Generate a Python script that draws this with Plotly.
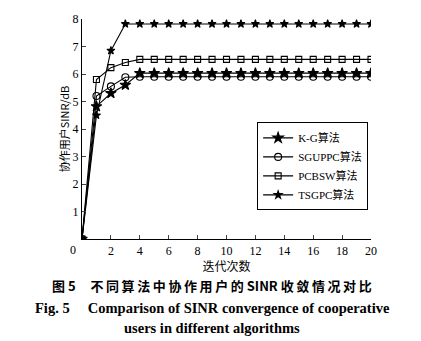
import plotly.graph_objects as go

# iteration index
iters = list(range(0, 21))

# SINR (dB) of cooperative users per iteration, one list per algorithm
kg_sinr = [0, 4.82, 5.3, 5.6] + [6.03] * 17
sguppc_sinr = [0, 5.2, 5.55, 5.88] + [5.9] * 17
pcbsw_sinr = [0, 5.8, 6.23, 6.42] + [6.53] * 17
tsgpc_sinr = [0, 4.5, 6.85] + [7.82] * 18

series_names = ["K-G算法", "SGUPPC算法", "PCBSW算法", "TSGPC算法"]
series_values = [kg_sinr, sguppc_sinr, pcbsw_sinr, tsgpc_sinr]
series_symbols = ["star", "circle-open", "square-open", "star"]
series_sizes = [8, 7, 6, 6]

x_ticks = list(range(2, 21, 2))
y_ticks = list(range(1, 9))

SERIF = "Liberation Serif, Times New Roman, Noto Sans CJK SC, serif"
CJK = "Noto Sans CJK SC, sans-serif"
NB = "\u00a0"
TS = "\u2009"

fig = go.Figure()
for name, vals, sym, sz in zip(series_names, series_values, series_symbols, series_sizes):
    fig.add_trace(go.Scatter(
        x=iters, y=vals, name=name, mode="lines+markers",
        line=dict(color="black", width=1.1),
        marker=dict(symbol=sym, size=sz, color="black",
                    line=dict(color="black", width=1.1)),
    ))

fig.update_layout(
    width=421, height=341,
    margin=dict(l=82, r=50, t=12, b=102),
    paper_bgcolor="white", plot_bgcolor="white",
    font=dict(family=SERIF, size=12, color="black"),
    showlegend=True,
    legend=dict(
        x=0.606, y=0.53, xanchor="left", yanchor="top",
        bordercolor="black", borderwidth=1, bgcolor="white",
        font=dict(family=SERIF, size=11),
        tracegroupgap=0, itemwidth=30,
    ),
    xaxis=dict(
        range=[0, 20], tickvals=x_ticks, ticks="inside", ticklen=4,
        showline=True, linecolor="black", linewidth=1.2, showgrid=False,
        zeroline=False, tickfont=dict(family=SERIF, size=12),
        title=dict(text="迭代次数", font=dict(family=CJK, size=12), standoff=4),
    ),
    yaxis=dict(
        range=[0, 8], tickvals=y_ticks, ticks="inside", ticklen=4,
        showline=True, linecolor="black", linewidth=1.2, showgrid=False,
        zeroline=False, tickfont=dict(family=SERIF, size=12),
        title=dict(text="协作用户SINR/dB", font=dict(family=CJK, size=11), standoff=0),
    ),
)

# shared origin label at the corner
fig.add_annotation(text="0", x=(73 - 82) / 289, y=(239 - 250) / 227,
                   xref="paper", yref="paper", xanchor="center", yanchor="middle",
                   showarrow=False, font=dict(family=SERIF, size=12))

# caption lines under the chart (pixel position -> paper coords)
cn_caption = ("<b>图" + NB + "5" + NB * 5 + TS.join("不同算法中协作用户的") + NB + "SINR" + NB
              + TS.join("收敛情况对比") + "</b>")
en_caption = "<b>Fig." + NB + "5" + NB * 5 + "Comparison of SINR convergence of cooperative</b>"
captions = [
    (cn_caption, 287, CJK, 13),
    (en_caption, 310, SERIF, 14.5),
    ("<b>users in different algorithms</b>", 331, SERIF, 14.5),
]
cap_x = (212 - 82) / 289
for text, ypix, fam, sz in captions:
    fig.add_annotation(text=text, x=cap_x, y=(239 - ypix) / 227, xref="paper", yref="paper",
                       xanchor="center", yanchor="middle", showarrow=False,
                       font=dict(family=fam, size=sz))

fig.write_html("out.html")
